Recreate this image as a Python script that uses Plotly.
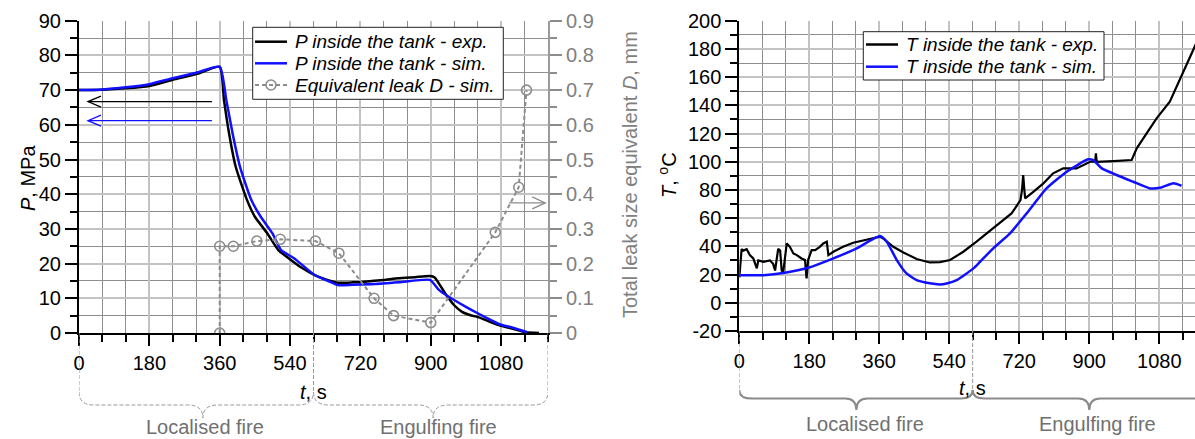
import plotly.graph_objects as go

W, H = 1195, 439
FONT = "Liberation Sans, Arial, sans-serif"

# ---------------- data: left chart (pressure) ----------------
t_p_exp = [0, 60, 120, 180, 240, 300, 360, 371, 384, 401, 430, 450, 482, 510, 543, 570, 603, 635,
           662, 700, 731, 780, 817, 860, 898, 910, 937, 960, 980, 1000, 1023, 1050, 1074, 1110, 1143, 1177]
p_exp = [70.0, 70.1, 70.5, 71.2, 73.0, 74.6, 76.7, 67.1, 57.5, 47.9, 38.3, 33.5, 28.7, 23.9, 21.0, 18.8, 16.7, 15.3,
         14.5, 14.6, 14.8, 15.3, 15.8, 16.1, 16.4, 16.0, 11.4, 8.0, 6.1, 5.2, 4.5, 3.3, 2.3, 1.2, 0.2, 0.0]

t_p_sim = [0, 60, 120, 180, 240, 300, 360, 377, 393, 412, 441, 465, 495, 517, 551, 603, 641, 662,
           700, 757, 820, 898, 920, 945, 975, 1005, 1040, 1074, 1110, 1147]
p_sim = [70.0, 70.2, 70.8, 71.7, 73.4, 75.0, 76.7, 67.1, 57.5, 47.9, 38.3, 33.5, 28.7, 23.9, 21.5, 16.7, 14.8, 13.8,
         13.9, 14.1, 14.6, 15.3, 12.5, 10.5, 8.5, 6.6, 4.5, 2.6, 1.5, 0.2]

t_leak = [360, 360, 395, 455, 515, 605, 665, 755, 805, 900, 1065, 1125, 1145]
d_leak = [0.0, 0.25, 0.25, 0.265, 0.27, 0.265, 0.23, 0.10, 0.05, 0.03, 0.29, 0.42, 0.70]

# ---------------- data: right chart (temperature) ----------------
t_T_exp = [0, 3, 6, 10, 19, 27, 36, 45, 49, 62, 79, 87, 92, 100, 105, 109, 113, 122, 130, 139, 148, 160,
           169, 173, 177, 186, 195, 207, 216, 225, 229, 242, 267, 293, 319, 345, 362, 370, 396, 422, 456,
           490, 516, 542, 576, 610, 662, 700, 709, 723, 727, 730, 733, 735, 756, 782, 807, 833, 867, 880,
           902, 915, 917, 919, 927, 962, 1009, 1022, 1047, 1073, 1107, 1133, 1167, 1175]
T_exp = [18, 30, 38, 37, 38, 33.8, 31.5, 24.4, 30, 29, 30, 27.6, 22.9, 38.2, 37, 22.9, 21.7, 42.1, 39.7, 35,
         33.8, 31.4, 30.3, 17.3, 30.3, 37.4, 37.4, 39.7, 42.1, 43.3, 33.8, 36.2, 39.7, 42.6, 44, 45.6, 46.8,
         45.6, 39.7, 35.7, 31, 28.6, 28.9, 30.3, 36.2, 43.3, 55.1, 63.4, 66.9, 72.8, 80, 90.6, 80, 74, 78.7,
         84.7, 91.8, 95.3, 95.3, 96.9, 100, 100, 106, 100, 100, 100.5, 101.2, 109.5, 120, 130.8, 142.6, 158,
         179.2, 184]

t_T_sim = [0, 62, 117, 177, 242, 302, 362, 379, 405, 430, 456, 490, 516, 533, 559, 602, 619, 653, 696,
           739, 790, 842, 897, 910, 932, 970, 1013, 1056, 1082, 1116, 1137]
T_sim = [19.6, 19.6, 21.3, 24.8, 31.5, 38.6, 47.3, 43.3, 30.3, 20.8, 16.1, 13.8, 13.0, 13.7, 16.1, 24.4,
         29.1, 38.6, 49.2, 63.4, 81.1, 92.9, 101.7, 101.2, 95.3, 90.6, 85.8, 81.1, 81.5, 84.7, 83.0]

x_ticks = [0, 180, 360, 540, 720, 900, 1080]
T_ticks = [-20, 0, 20, 40, 60, 80, 100, 120, 140, 160, 180, 200]
T_ticklabels = ["-20", "0", "20", "40", "60", "80", "100", "120", "140", "160", "180", "200"]
phase_names = ["Localised fire", "Engulfing fire"]
phase_bounds = [0, 600, 1200]
phase_tips_left = [317, 906]
phase_text_left = [322, 921]
phase_tips_right = [301, 900]
phase_text_right = [323, 920]

legend_left_names = ["<i>P inside the tank - exp.</i>", "<i>P inside the tank - sim.</i>",
                     "<i>Equivalent leak D - sim.</i>"]
legend_right_names = ["<i>T inside the tank - exp.</i>", "<i>T inside the tank - sim.</i>"]

# ---------------- geometry (pixels) ----------------
L_X0, L_X1 = 79, 548
L_Y0, L_Y1 = 333, 20.7
R_X0 = 739.3
R_Y0, R_Y1 = 331, 20.7
L_PXS = (L_X1 - L_X0) / 1200.0
R_PXS = 70 / 180.0
R_XMAX = (W - R_X0) / R_PXS


def py(p):
    return 1 - p / H


def pxx(p):
    return p / W


BLACK = "#000000"
BLUE = "#1010ff"
GRAY = "#8c8c8c"
MAJ_GRID = "#c3c3c3"
MIN_GRID = "#8e8e8e"

fig = go.Figure()
fig.add_trace(go.Scatter(x=t_p_exp, y=p_exp, mode="lines",
                         line=dict(color=BLACK, width=2.5, shape="spline", smoothing=0.5),
                         name=legend_left_names[0], xaxis="x", yaxis="y", showlegend=False))
fig.add_trace(go.Scatter(x=t_p_sim, y=p_sim, mode="lines",
                         line=dict(color=BLUE, width=2.5, shape="spline", smoothing=0.5),
                         name=legend_left_names[1], xaxis="x", yaxis="y", showlegend=False))
fig.add_trace(go.Scatter(x=t_leak, y=d_leak, mode="lines+markers",
                         line=dict(color=GRAY, width=2, dash="4px,3px"),
                         marker=dict(symbol="circle-open", size=10, color=GRAY, line=dict(width=1.6, color=GRAY)),
                         name=legend_left_names[2], xaxis="x", yaxis="y2", showlegend=False))
fig.add_trace(go.Scatter(x=t_T_exp, y=T_exp, mode="lines", line=dict(color=BLACK, width=2.2),
                         name=legend_right_names[0], xaxis="x2", yaxis="y3", showlegend=False))
fig.add_trace(go.Scatter(x=t_T_sim, y=T_sim, mode="lines",
                         line=dict(color=BLUE, width=2.5, shape="spline", smoothing=0.5),
                         name=legend_right_names[1], xaxis="x2", yaxis="y3", showlegend=False))

tickfont = dict(family=FONT, size=20, color="black")


def xax(domain, rng, anchor):
    return dict(domain=domain, range=rng, anchor=anchor, tickmode="array", tickvals=x_ticks,
                automargin=False,
                ticks="outside", ticklen=11, tickwidth=2, tickcolor="black",
                showline=True, linecolor="black", linewidth=2, zeroline=False,
                showgrid=True, gridcolor=MAJ_GRID, gridwidth=2, tickfont=tickfont,
                minor=dict(dtick=60, tick0=0, ticks="outside", ticklen=7, tickwidth=2, tickcolor="black",
                           showgrid=True, gridcolor=MIN_GRID, gridwidth=1))


def yax(domain, rng, dtick, anchor):
    return dict(domain=domain, range=rng, anchor=anchor, dtick=dtick, tick0=0, automargin=False,
                ticks="outside", ticklen=12, tickwidth=2, tickcolor="black",
                showline=True, linecolor="black", linewidth=2, zeroline=False,
                showgrid=True, gridcolor=MAJ_GRID, gridwidth=2, tickfont=tickfont,
                minor=dict(dtick=dtick / 2, tick0=0, ticks="outside", ticklen=7, tickwidth=2, tickcolor="black",
                           showgrid=True, gridcolor=MIN_GRID, gridwidth=1))


yaxis3 = yax([py(R_Y0), py(R_Y1)], [-20, 200], 20, "x2")
yaxis3.update(tickmode="array", tickvals=T_ticks, ticktext=T_ticklabels)

layout = dict(
    width=W, height=H, margin=dict(l=0, r=0, t=0, b=0, autoexpand=False),
    paper_bgcolor="white", plot_bgcolor="white", font=dict(family=FONT, size=20),
    xaxis=xax([L_X0 / W, L_X1 / W], [0, 1200], "y"),
    yaxis=yax([py(L_Y0), py(L_Y1)], [0, 90], 10, "x"),
    yaxis2=dict(overlaying="y", side="right", anchor="x", range=[0, 0.9], dtick=0.1, tick0=0, automargin=False,
                ticks="outside", ticklen=12, tickwidth=2, tickcolor=GRAY, showline=True, linecolor="#9a9a9a",
                linewidth=2, showgrid=False, zeroline=False,
                tickfont=dict(family=FONT, size=20, color="#808080"),
                minor=dict(dtick=0.05, ticks="outside", ticklen=7, tickwidth=2, tickcolor=GRAY, showgrid=False)),
    xaxis2=xax([R_X0 / W, 1], [0, R_XMAX], "y3"),
    yaxis3=yaxis3,
    showlegend=False,
)
fig.update_layout(**layout)

shapes = []
annotations = []

# ---------------- arrows pointing to the axes ----------------
def arrow(xref, yref, x_from, x_tip, y, dx, dy, color):
    shapes.append(dict(type="line", xref=xref, yref=yref, x0=x_from, x1=x_tip, y0=y, y1=y,
                       line=dict(color=color, width=1.3)))
    shapes.append(dict(type="path", xref=xref, yref=yref,
                       path=f"M {x_tip + dx},{y + dy} L {x_tip},{y} L {x_tip + dx},{y - dy}",
                       line=dict(color=color, width=1.3)))

px_s = 1 / L_PXS
arrow("x", "y", 340, 23, 66.7, 13 * px_s, 5.5 / 3.47, BLACK)
arrow("x", "y", 340, 23, 61.2, 13 * px_s, 5.5 / 3.47, BLUE)
arrow("x", "y2", 1100, 1193, 0.375, -13 * px_s, 6 * 0.9 / 312.3, GRAY)

# ---------------- phase braces ----------------
def brace(xref, pxs, t0, t1, tm, ytop, yh, ytip, r, rm, color, width, dash):
    rs, rms = r / pxs, rm / pxs
    p = (f"M {t0},{py(ytop)} Q {t0},{py(yh)} {t0 + rs},{py(yh)} L {tm - rms},{py(yh)} "
         f"Q {tm},{py(yh)} {tm},{py(ytip)} Q {tm},{py(yh)} {tm + rms},{py(yh)} "
         f"L {t1 - rs},{py(yh)} Q {t1},{py(yh)} {t1},{py(ytop)}")
    shapes.append(dict(type="path", xref=xref, yref="paper", path=p,
                       line=dict(color=color, width=width, dash=dash)))

# left chart: dashed verticals + dashed braces
for tb in phase_bounds:
    shapes.append(dict(type="line", xref="x", yref="paper", x0=tb, x1=tb, y0=py(L_Y0), y1=py(392),
                       line=dict(color="#9a9a9a", width=1, dash="4px,2px")))
for i in range(2):
    brace("x", L_PXS, phase_bounds[i], phase_bounds[i + 1], phase_tips_left[i], 392, 405, 418, 15, 15,
          "#9a9a9a", 1, "4px,2px")

# right chart: dashed verticals + solid braces
for tb in phase_bounds:
    shapes.append(dict(type="line", xref="x2", yref="paper", x0=tb, x1=tb, y0=py(R_Y0), y1=py(390),
                       line=dict(color="#9a9a9a", width=1, dash="4px,2px")))
for i in range(2):
    brace("x2", R_PXS, phase_bounds[i], phase_bounds[i + 1], phase_tips_right[i], 390, 398.5, 410, 12, 11,
          "#8a8a8a", 2, "solid")

lab_font = dict(family=FONT, size=20, color="#707070")
for i, name in enumerate(phase_names):
    annotations.append(dict(x=phase_text_left[i], y=py(427), xref="x", yref="paper", text=name, showarrow=False,
                            xanchor="center", yanchor="middle", font=lab_font))
    annotations.append(dict(x=phase_text_right[i], y=py(424), xref="x2", yref="paper", text=name,
                            showarrow=False, xanchor="center", yanchor="middle", font=lab_font))

# ---------------- legends (drawn as boxes with samples) ----------------
leg_font = dict(family=FONT, size=19, color="black")


def legend_box(x0, y0, x1, y1, rows, names, styles, lx0, lx1, tx):
    shapes.append(dict(type="rect", xref="paper", yref="paper", x0=pxx(x0), x1=pxx(x1), y0=py(y1), y1=py(y0),
                       fillcolor="white", line=dict(color="#222", width=1), layer="above"))
    for yy, name, st in zip(rows, names, styles):
        color, dash, marker = st
        shapes.append(dict(type="line", xref="paper", yref="paper", x0=pxx(lx0), x1=pxx(lx1), y0=py(yy), y1=py(yy),
                           line=dict(color=color, width=2.5 if dash == "solid" else 2, dash=dash), layer="above"))
        if marker:
            cx = (lx0 + lx1) / 2
            shapes.append(dict(type="circle", xref="paper", yref="paper", x0=pxx(cx - 5), x1=pxx(cx + 5),
                               y0=py(yy + 5), y1=py(yy - 5), fillcolor="rgba(0,0,0,0)",
                               line=dict(color=color, width=1.6), layer="above"))
        annotations.append(dict(x=pxx(tx), y=py(yy), xref="paper", yref="paper", text=name, showarrow=False,
                                xanchor="left", yanchor="middle", font=leg_font))


legend_box(252.7, 27.3, 503.3, 99.3, [41.7, 63.3, 85], legend_left_names,
           [(BLACK, "solid", False), (BLUE, "solid", False), (GRAY, "4px,3px", True)], 255, 287, 293)
legend_box(863.3, 31.7, 1104, 80, [44.5, 66.7], legend_right_names,
           [(BLACK, "solid", False), (BLUE, "solid", False)], 866, 898, 904)

# axis titles
tfont = dict(family=FONT, size=20, color="black")
annotations.append(dict(x=600, y=py(392), xref="x", yref="paper", text="<i>t</i>, s", showarrow=False,
                        xanchor="center", yanchor="middle", font=tfont))
annotations.append(dict(x=600, y=py(388), xref="x2", yref="paper", text="<i>t</i>, s", showarrow=False,
                        xanchor="center", yanchor="middle", font=tfont))
annotations.append(dict(x=28 / W, y=py(178), xref="paper", yref="paper", text="<i>P</i>, MPa",
                        showarrow=False, textangle=-90, xanchor="center", yanchor="middle", font=tfont))
annotations.append(dict(x=630 / W, y=py(175), xref="paper", yref="paper",
                        text="Total leak size equivalent <i>D</i>, mm", showarrow=False, textangle=-90,
                        xanchor="center", yanchor="middle", font=dict(family=FONT, size=20, color="#808080")))
annotations.append(dict(x=668 / W, y=py(175), xref="paper", yref="paper", text="<i>T</i>, <sup>o</sup>C",
                        showarrow=False, textangle=-90, xanchor="center", yanchor="middle", font=tfont))

fig.update_layout(shapes=shapes, annotations=annotations)
fig.write_html("out.html")
